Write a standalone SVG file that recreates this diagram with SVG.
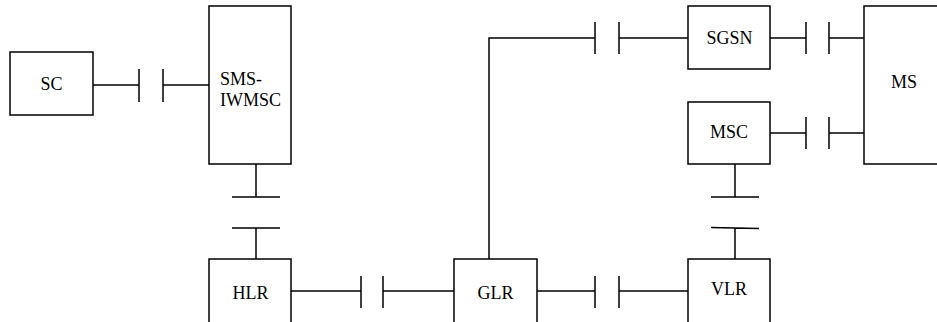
<svg xmlns="http://www.w3.org/2000/svg" width="937" height="322" viewBox="0 0 937 322">
<style>
.box{fill:#fff;stroke:#000;stroke-width:1.5}
.ln{stroke:#000;stroke-width:1.5;fill:none}
.t{font-family:'Liberation Serif','Times New Roman',serif;font-size:18px;fill:#000}
.c{text-anchor:middle}
</style>
<rect width="937" height="322" fill="#fff"/>
<g id="connectors">
<path class="ln" d="M93 85H139M139 69V102M163 69V102M163 85H209"/>
<path class="ln" d="M256 164V197M232 197H280M232 228H280M256 228V259"/>
<path class="ln" d="M291 291H361M361 276V308M383 276V308M383 291H454"/>
<path class="ln" d="M537 291H595M595 276V308M619 276V308M619 291H688"/>
<path class="ln" d="M489 259V38H595M595 22V54M619 22V54M619 38H688"/>
<path class="ln" d="M770 38H806M806 22V54M829 22V54M829 38H864"/>
<path class="ln" d="M770 133H806M806 117V149M829 117V149M829 133H864"/>
<path class="ln" d="M735 164V197M711 197H759M711 227.5L759 228.5M735 228V259"/>
</g>
<g id="SC"><rect class="box" x="10" y="52" width="83" height="63"/><text class="t c" x="51.5" y="90">SC</text></g>
<g id="SMS-IWMSC"><rect class="box" x="209" y="6" width="82" height="158"/><text class="t" x="220" y="84.5">SMS-</text><text class="t" x="220" y="106">IWMSC</text></g>
<g id="HLR"><rect class="box" x="209" y="259" width="82" height="80"/><text class="t c" x="250.5" y="299">HLR</text></g>
<g id="GLR"><rect class="box" x="454" y="259" width="83" height="80"/><text class="t c" x="495.5" y="298.5">GLR</text></g>
<g id="SGSN"><rect class="box" x="688" y="6" width="82" height="63"/><text class="t c" x="729.5" y="44">SGSN</text></g>
<g id="MSC"><rect class="box" x="688" y="102" width="82" height="62"/><text class="t c" x="729" y="138">MSC</text></g>
<g id="VLR"><rect class="box" x="688" y="259" width="82" height="80"/><text class="t c" x="729" y="295">VLR</text></g>
<g id="MS"><rect class="box" x="864" y="6" width="90" height="158"/><text class="t c" x="904" y="88">MS</text></g>
</svg>
